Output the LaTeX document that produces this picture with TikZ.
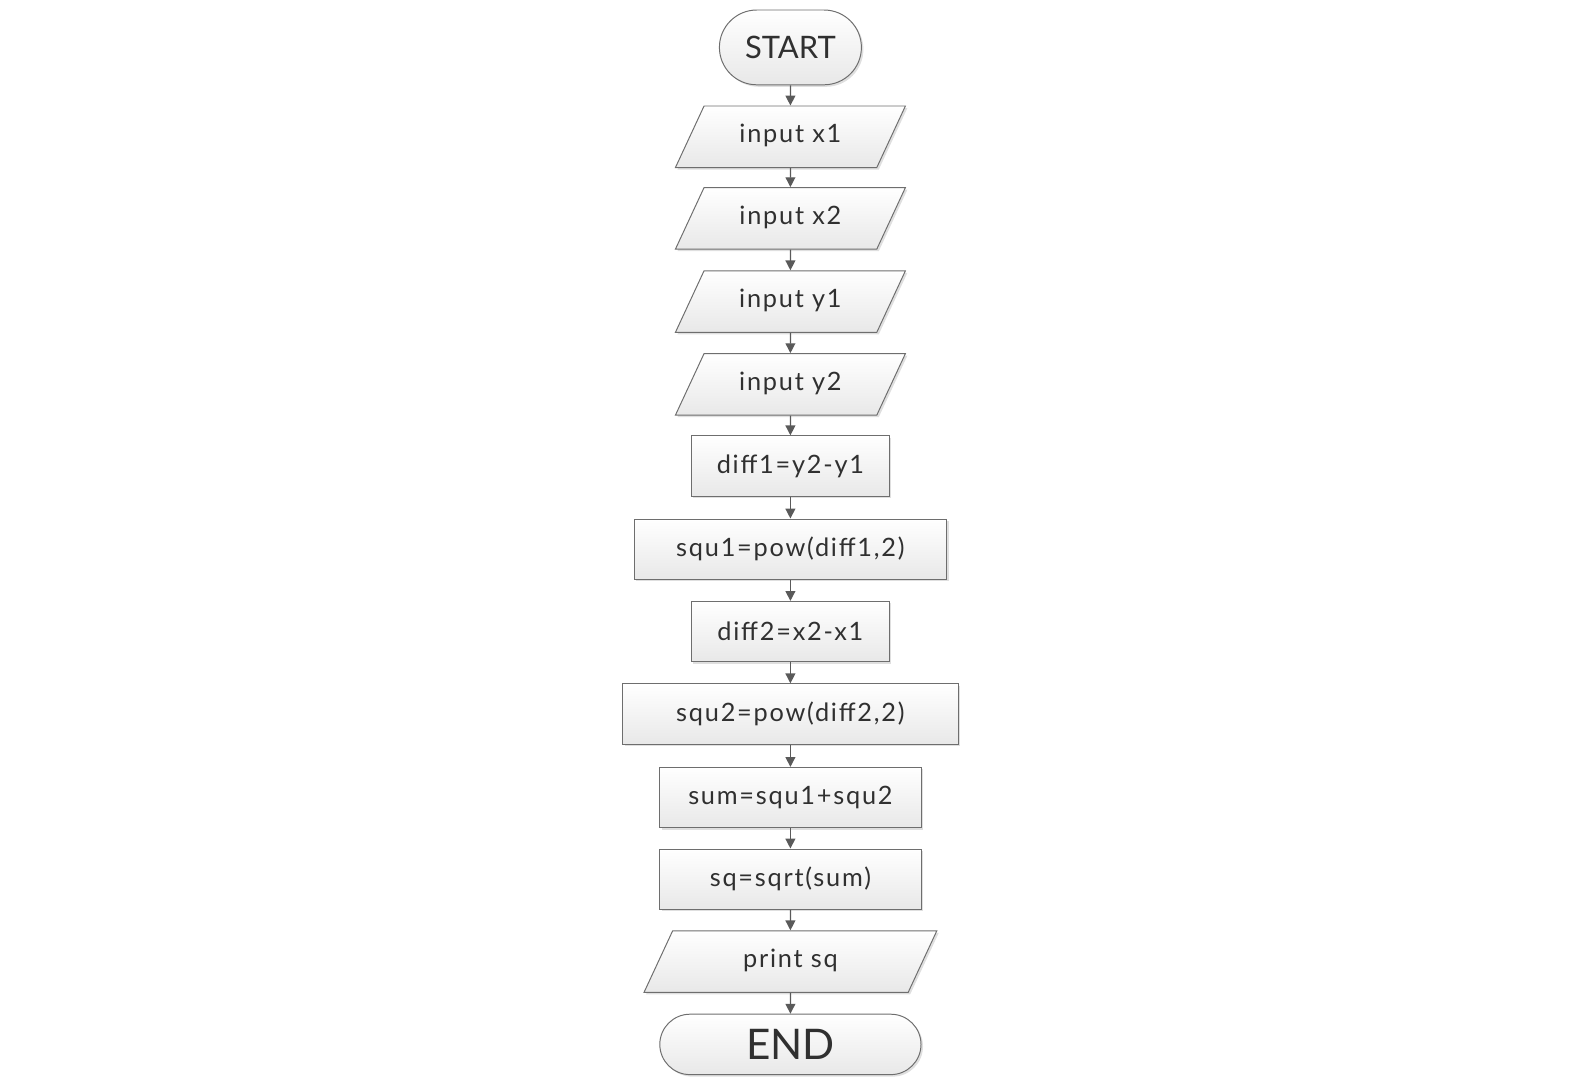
\documentclass[tikz,border=0pt]{standalone}
\usepackage{fontspec}
\setmainfont{Lato}
\newfontfamily\boxfont{Lato}[LetterSpace=7]
\usetikzlibrary{shapes,arrows.meta,shadows}
\definecolor{edgegray}{HTML}{6E6E6E}
\definecolor{arrowgray}{HTML}{5A5A5A}
\definecolor{textgray}{HTML}{303030}
\tikzstyle{base} = [draw=edgegray, line width=0.7pt, top color=white, bottom color=black!9, text=textgray, font=\boxfont\fontsize{18}{21}\selectfont, drop shadow={shadow xshift=0.05cm, shadow yshift=-0.05cm, opacity=0.25}, inner xsep=0pt, inner ysep=0pt, minimum height=1.51cm]
\tikzstyle{terminal} = [base, rounded rectangle]
\tikzstyle{io} = [base, trapezium, trapezium left angle=65, trapezium right angle=115, trapezium stretches body, text height=12pt, text depth=4pt, inner ysep=13.85pt, minimum height=1.54cm]
\tikzstyle{process} = [base, rectangle]
\tikzstyle{line} = [draw=arrowgray, line width=0.9pt, -{Triangle[length=7pt,width=7pt]}]

\begin{document}
\begin{tikzpicture}
\useasboundingbox (0,0) rectangle (39.55,-27.1);
\node [terminal, minimum height=1.87cm, minimum width=3.55cm, font=\fontsize{22}{26}\selectfont] (start) at (19.76,-1.185) {START};
\node [io, minimum width=5.75cm] (in-x1) at (19.76,-3.42) {input x1};
\node [io, minimum width=5.75cm] (in-x2) at (19.76,-5.46) {input x2};
\node [io, minimum width=5.75cm] (in-y1) at (19.76,-7.54) {input y1};
\node [io, minimum width=5.75cm] (in-y2) at (19.76,-9.61) {input y2};
\path [line] (start) -- (in-x1);
\path [line] (in-x1) -- (in-x2);
\path [line] (in-x2) -- (in-y1);
\path [line] (in-y1) -- (in-y2);
\node [process, minimum width=4.95cm] (diff1) at (19.76,-11.65) {diff1=y2-y1};
\node [process, minimum width=7.82cm] (squ1) at (19.76,-13.73) {squ1=pow(diff1,2)};
\node [process, minimum width=4.95cm] (diff2) at (19.76,-15.79) {diff2=x2-x1};
\node [process, minimum width=8.38cm] (squ2) at (19.76,-17.85) {squ2=pow(diff2,2)};
\path [line] (in-y2) -- (diff1);
\path [line] (diff1) -- (squ1);
\path [line] (squ1) -- (diff2);
\path [line] (diff2) -- (squ2);
\node [process, minimum width=6.53cm] (sum) at (19.76,-19.94) {sum=squ1+squ2};
\node [process, minimum width=6.53cm] (sq) at (19.76,-21.98) {sq=sqrt(sum)};
\node [io, minimum width=7.32cm] (print-sq) at (19.76,-24.04) {print sq};
\node [terminal, minimum width=6.53cm, font=\fontsize{30}{34}\selectfont] (end) at (19.76,-26.11) {END};
\path [line] (squ2) -- (sum);
\path [line] (sum) -- (sq);
\path [line] (sq) -- (print-sq);
\path [line] (print-sq) -- (end);
\end{tikzpicture}
\end{document}
